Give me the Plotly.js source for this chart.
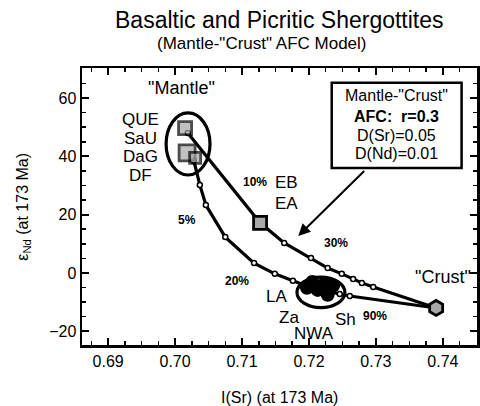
<!DOCTYPE html>
<html><head><meta charset="utf-8">
<script src="https://cdn.plot.ly/plotly-3.0.1.min.js"></script>
<style>body{margin:0;background:#fff}#chart{width:480px;height:406px}</style>
</head><body><div id="chart"></div>
<script>
// AFC model curves (I(Sr), eNd)
const upperX = [0.7019, 0.7127, 0.7163, 0.7203, 0.7228, 0.7249, 0.7266, 0.7279, 0.7296, 0.7390];
const upperY = [48.0, 17.2, 10.3, 5.1, 1.7, -0.3, -2.1, -3.4, -4.8, -12.0];
const lowerX = [0.7028, 0.7037, 0.7046, 0.7075, 0.7118, 0.7149, 0.7176, 0.7201, 0.7224, 0.7246, 0.7261, 0.7390];
const lowerY = [38.5, 30.2, 23.3, 12.3, 3.4, -0.3, -2.7, -4.8, -6.2, -7.2, -7.9, -12.0];
// Samples
const mantleX = [0.7015, 0.7018, 0.7030];
const mantleY = [49.7, 41.2, 39.5];
const ebX = [0.7127];
const ebY = [17.2];
const crustX = [0.7390];
const crustY = [-12.0];
const sherX = [0.7205, 0.7224, 0.7213, 0.7228, 0.7197, 0.7236];
const sherY = [-3.1, -3.4, -5.8, -7.5, -5.1, -4.4];
// Labels
const sampleLabels = ['QUE', 'SaU', 'DaG', 'DF'];
const boxLines = ['Mantle-"Crust"', '<b>AFC:  r=0.3</b>', 'D(Sr)=0.05', 'D(Nd)=0.01'];

const F = 'Liberation Sans, Arial, sans-serif';
const lineStyle = {color: '#000', width: 3.2};
const dotMarker = {symbol: 'circle', size: 5, color: '#fff', line: {color: '#000', width: 1.5}};

const traces = [
  {x: upperX, y: upperY, mode: 'lines+markers', line: lineStyle, marker: dotMarker, hoverinfo: 'none'},
  {x: lowerX, y: lowerY, mode: 'lines+markers', line: lineStyle, marker: dotMarker, hoverinfo: 'none'},
  {x: sherX, y: sherY, mode: 'markers', marker: {symbol: 'circle', size: 14, color: '#000'}, hoverinfo: 'none'},
  {x: mantleX, y: mantleY, mode: 'markers', marker: {symbol: 'square', size: [13, 16, 11], color: '#a8a8a8', line: {color: '#000', width: 2.8}}, hoverinfo: 'none'},
  {x: ebX, y: ebY, mode: 'markers', marker: {symbol: 'square', size: 13, color: '#a8a8a8', line: {color: '#000', width: 2.8}}, hoverinfo: 'none'},
  {x: crustX, y: crustY, mode: 'markers', marker: {symbol: 'hexagon', size: 15, color: '#a8a8a8', line: {color: '#000', width: 2.8}}, hoverinfo: 'none'}
];

function txt(x, y, text, size, bold) {
  return {x: x, y: y, xref: 'x', yref: 'y', text: bold ? '<b>' + text + '</b>' : text, showarrow: false,
          font: {family: F, size: size, color: '#000'}, xanchor: 'center', yanchor: 'middle'};
}
const ann = [
  {xref: 'paper', yref: 'paper', x: 0.5, y: 1.173, text: 'Basaltic and Picritic Shergottites', showarrow: false,
   font: {family: F, size: 23, color: '#000'}, xanchor: 'center', yanchor: 'middle'},
  {xref: 'paper', yref: 'paper', x: 0.455, y: 1.09, text: '(Mantle-"Crust" AFC Model)', showarrow: false,
   font: {family: F, size: 17, color: '#000'}, xanchor: 'center', yanchor: 'middle'},
  {xref: 'paper', yref: 'paper', x: 0.5, y: -0.188, text: 'I(Sr) (at 173 Ma)', showarrow: false,
   font: {family: F, size: 16, color: '#000'}, xanchor: 'center', yanchor: 'middle'},
  {xref: 'paper', yref: 'paper', x: -0.149, y: 0.50, text: 'ε<sub>Nd</sub> (at 173 Ma)', showarrow: false, textangle: -90,
   font: {family: F, size: 16, color: '#000'}, xanchor: 'center', yanchor: 'middle'},
  txt(0.7010, 63.5, '"Mantle"', 18),
  txt(0.6948, 52.5, sampleLabels[0], 17),
  txt(0.6948, 46.0, sampleLabels[1], 17),
  txt(0.6948, 39.8, sampleLabels[2], 17),
  txt(0.6948, 33.3, sampleLabels[3], 17),
  txt(0.7119, 31.2, '10%', 12, true),
  txt(0.7166, 30.9, 'EB', 17),
  txt(0.7166, 24.0, 'EA', 17),
  txt(0.7018, 18.2, '5%', 12, true),
  txt(0.7240, 10.3, '30%', 12, true),
  txt(0.7093, -2.7, '20%', 12, true),
  txt(0.7152, -8.2, 'LA', 17),
  txt(0.7170, -15.1, 'Za', 17),
  txt(0.7207, -20.6, 'NWA', 17),
  txt(0.7255, -15.8, 'Sh', 17),
  txt(0.7298, -14.8, '90%', 12, true),
  txt(0.7400, -1.4, '"Crust"', 18),
  txt(0.7331, 61.0, boxLines[0], 16),
  txt(0.7331, 53.5, boxLines[1], 16),
  txt(0.7331, 47.3, boxLines[2], 16),
  txt(0.7331, 41.1, boxLines[3], 16),
  {x: 0.7184, y: 12.7, ax: 0.7287, ay: 36.0, xref: 'x', yref: 'y', axref: 'x', ayref: 'y', text: ' ',
   showarrow: true, arrowhead: 2, arrowsize: 1.2, arrowwidth: 2, arrowcolor: '#000'}
];

const shapes = [
  {type: 'circle', xref: 'x', yref: 'y', x0: 0.69866, x1: 0.70522, y0: 33.6, y1: 54.9, line: {color: '#000', width: 3.2}},
  {type: 'circle', xref: 'x', yref: 'y', x0: 0.71821, x1: 0.72537, y0: -11.9, y1: -1.4, line: {color: '#000', width: 3.2}},
  {type: 'rect', xref: 'x', yref: 'y', x0: 0.7234, x1: 0.7428, y0: 36.0, y1: 65.2, line: {color: '#000', width: 2.5}, fillcolor: '#fff', layer: 'below'}
];

const axisCommon = {
  showgrid: false, zeroline: false, showline: true, linecolor: '#000', linewidth: 2.5,
  mirror: 'allticks', ticks: 'inside', tickcolor: '#000', tickwidth: 2, ticklen: 7,
  tickfont: {family: F, size: 16, color: '#000'}
};
const layout = {
  width: 480, height: 406,
  margin: {l: 82, r: 3, t: 68, b: 61},
  paper_bgcolor: '#fff', plot_bgcolor: '#fff',
  showlegend: false,
  xaxis: Object.assign({}, axisCommon, {range: [0.6861, 0.7451], dtick: 0.01, tick0: 0.69, tickformat: '.2f',
    minor: {dtick: 0.0025, ticks: 'inside', ticklen: 4, tickcolor: '#000', tickwidth: 1.5}}),
  yaxis: Object.assign({}, axisCommon, {range: [-24.7, 70.3], dtick: 20, tick0: 0,
    minor: {dtick: 5, ticks: 'inside', ticklen: 4, tickcolor: '#000', tickwidth: 1.5}}),
  annotations: ann,
  shapes: shapes
};
Plotly.newPlot('chart', traces, layout, {displayModeBar: false, staticPlot: true});
</script>
</body></html>
